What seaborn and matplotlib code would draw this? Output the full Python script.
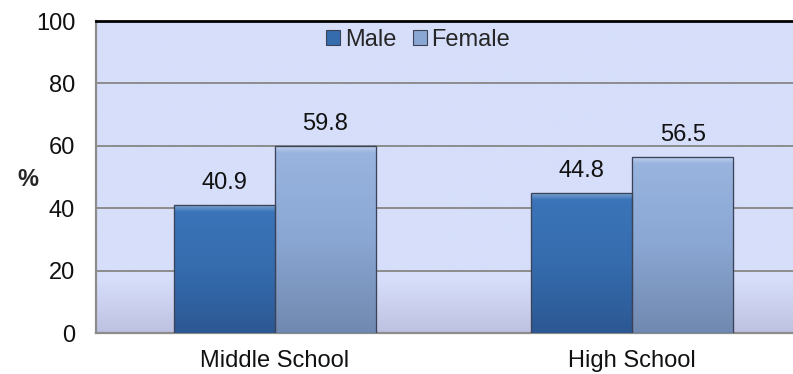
import numpy as np
import pandas as pd
import matplotlib
matplotlib.use("Agg")
import matplotlib.pyplot as plt
from matplotlib.colors import LinearSegmentedColormap, to_rgb
from matplotlib.patches import Rectangle
import seaborn as sns

# Data
schools = ["Middle School", "High School"]
genders = ["Male", "Female"]
male_pct = [40.9, 44.8]
female_pct = [59.8, 56.5]
y_ticks = [0, 20, 40, 60, 80, 100]

df = pd.DataFrame({
    "school": schools * 2,
    "gender": ["Male"] * len(schools) + ["Female"] * len(schools),
    "pct": male_pct + female_pct,
})

sns.set_theme(style="white")
plt.rcParams["font.family"] = ["Liberation Sans", "DejaVu Sans"]

W, H = 793, 374
fig = plt.figure(figsize=(W / 100, H / 100), dpi=100)
ax = fig.add_axes([96 / W, 41 / H, (811 - 96) / W, (333 - 21) / H])

palette = {"Male": "#356cae", "Female": "#8aa6d2"}
sns.barplot(data=df, x="school", y="pct", hue="gender", order=schools,
            hue_order=genders, palette=palette, width=0.566, gap=0,
            edgecolor="#3c4358", linewidth=0.8, saturation=1, ax=ax,
            legend=True, zorder=3)

ax.set_xlim(-0.5, 1.5)
ax.set_ylim(0, 100)

# panel background: flat lavender with a soft darker band near the floor
bg_top = np.array(to_rgb("#d6defa"))
bg_bot = np.array(to_rgb("#bec1e1"))
yy = np.linspace(0, 100, 400)
t = np.clip((17 - yy) / 17, 0, 1)[:, None]
bg = bg_top * (1 - t) + bg_bot * t
ax.imshow(bg[:, None, :], extent=(-0.5, 1.5, 0, 100), origin="lower",
          aspect="auto", zorder=0, interpolation="bilinear")

# vertical shading on each bar
grad_maps = {
    "Male": LinearSegmentedColormap.from_list("m", ["#2c5893", "#356cae", "#3b75b9"]),
    "Female": LinearSegmentedColormap.from_list("f", ["#7089b0", "#8aa6d2", "#99b5e0"]),
}
bars = [p for p in ax.patches if p.get_height() > 0]
for i, p in enumerate(bars):
    g = genders[i // len(schools)]
    x0, w, h = p.get_x(), p.get_width(), p.get_height()
    grad = np.linspace(0, 1, 256)[:, None]
    im = ax.imshow(grad, extent=(x0, x0 + w, 0, h), origin="lower",
                   cmap=grad_maps[g], aspect="auto", zorder=3.5,
                   interpolation="bilinear")
    im.set_clip_path(p)
    # soft bevel near the top of the bar
    top = np.linspace(0, 1, 64)[:, None]
    cap = np.ones((64, 1, 4))
    cap[..., 3] = 0.35 * top
    ax.imshow(cap, extent=(x0, x0 + w, h - 2.2, h), origin="lower",
              aspect="auto", zorder=3.6, interpolation="bilinear")
    # crisp outline above the shading
    ax.add_patch(Rectangle((x0, 0), w, h, fill=False, edgecolor="#3c4358",
                           linewidth=0.9, zorder=3.8))
    ax.annotate(f"{h:.1f}", (x0 + w / 2, h), xytext=(0, 8),
                textcoords="offset points", ha="center", va="bottom",
                fontsize=17, color="#111111", zorder=5)

ax.set_yticks(y_ticks)
ax.yaxis.grid(True, color="#8c8c8c", linewidth=1.4, zorder=1)
ax.set_axisbelow(True)
for s in ("left", "bottom"):
    ax.spines[s].set_color("#8c8c8c")
    ax.spines[s].set_linewidth(1.6)
ax.spines["top"].set_color("black")
ax.spines["top"].set_linewidth(2)
ax.spines["right"].set_visible(False)
ax.tick_params(axis="y", length=0, pad=15, labelsize=17, labelcolor="#111111")
ax.tick_params(axis="x", length=0, pad=12, labelsize=17, labelcolor="#111111")
ax.set_xlabel("")
ax.set_ylabel("")

fig.text(28 / W, 1 - 180 / H, "%", fontsize=17, fontweight="bold",
         ha="center", va="center")

handles, labels = ax.get_legend_handles_labels()
ax.legend(handles, labels, loc="center", bbox_to_anchor=(418 / W, 1 - 40 / H),
          bbox_transform=fig.transFigure, ncol=2, frameon=False,
          fontsize=17, handlelength=0.6, handleheight=0.6,
          handletextpad=0.2, columnspacing=0.7)

fig.savefig("out.png", dpi=100)
